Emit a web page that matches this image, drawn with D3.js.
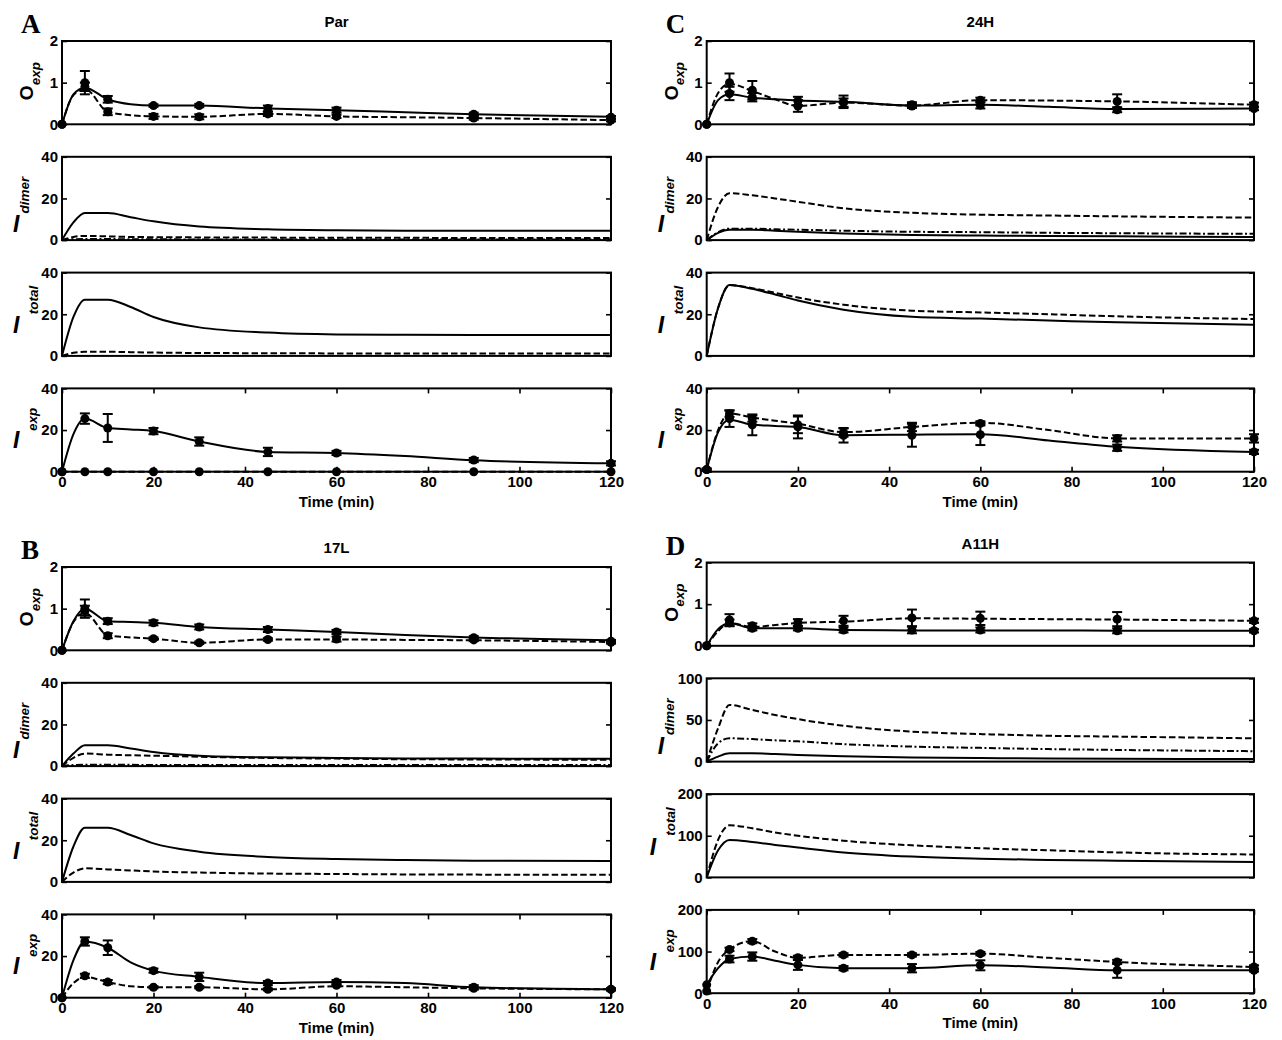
<!DOCTYPE html>
<html><head><meta charset="utf-8">
<script src="https://cdn.jsdelivr.net/npm/d3@7"></script>
<style>body{margin:0;background:#fff} svg{display:block}</style>
</head><body><svg id="c" width="1282" height="1040"></svg>
<script>
// ---------------- DATA ----------------
const timeObs = [0, 5, 10, 20, 30, 45, 60, 90, 120];
const timeFit = [0, 2.5, 5, 10, 15, 20, 30, 45, 60, 75, 90, 120];
const xTicks = [0, 20, 40, 60, 80, 100, 120];
const panelLetters = ["A", "B", "C", "D"];
const panelTitles = ["Par", "17L", "24H", "A11H"];
const rowLabels = [["O", "exp"], ["I", "dimer"], ["I", "total"], ["I", "exp"]];
const yTicksStd = [[0, 1, 2], [0, 20, 40], [0, 20, 40], [0, 20, 40]];
const yTicksD = [[0, 1, 2], [0, 50, 100], [0, 100, 200], [0, 100, 200]];
const xLabel = "Time (min)";

// Panel A: Par
const parOexpFit1 = [0, 0.72, 0.88, 0.6, 0.48, 0.45, 0.45, 0.38, 0.34, 0.29, 0.24, 0.18];
const parOexpFit2 = [0, 0.7, 0.85, 0.3, 0.22, 0.19, 0.18, 0.25, 0.19, 0.17, 0.15, 0.1];
const parOexpObs1 = [0, 1.0, 0.6, 0.45, 0.45, 0.38, 0.34, 0.24, 0.17];
const parOexpErr1 = [0, 0.28, 0.08, 0.03, 0.04, 0.07, 0.06, 0.04, 0.03];
const parOexpObs2 = [0, 0.9, 0.3, 0.19, 0.18, 0.25, 0.19, 0.15, 0.1];
const parOexpErr2 = [0, 0.1, 0.08, 0.06, 0.06, 0.05, 0.04, 0.04, 0.03];
const parIdimerFit1 = [0, 8.5, 13, 13, 11, 9, 6.5, 5.2, 4.7, 4.5, 4.5, 4.5];
const parIdimerFit2 = [0, 1.5, 2, 1.8, 1.5, 1.4, 1.3, 1.2, 1.1, 1.1, 1, 1];
const parIdimerFit3 = [0, 0.4, 0.5, 0.5, 0.4, 0.4, 0.3, 0.3, 0.3, 0.3, 0.3, 0.3];
const parItotalFit1 = [0, 18.7, 27, 27, 23.5, 18.7, 13.7, 11.2, 10.3, 10.1, 10, 10];
const parItotalFit2 = [0, 1.5, 2, 2, 1.8, 1.6, 1.4, 1.3, 1.2, 1.2, 1.1, 1.1];
const parIexpFit1 = [0, 18, 25.5, 21, 20.3, 19.5, 14.5, 9.5, 9, 7.5, 5.5, 4];
const parIexpFit2 = [0, 0, 0, 0, 0, 0, 0, 0, 0, 0, 0, 0];
const parIexpObs1 = [0, 25.5, 21, 19.5, 14.5, 9.5, 9, 5.6, 4];
const parIexpErr1 = [0, 2.5, 6.7, 1.5, 2, 2, 1, 1, 1];
const parIexpObs2 = [0, 0, 0, 0, 0, 0, 0, 0, 0];
const parIexpErr2 = [0, 0, 0, 0, 0, 0, 0, 0, 0];

// Panel B: 17L
const l17OexpFit1 = [0, 0.7, 1.0, 0.7, 0.68, 0.66, 0.56, 0.5, 0.44, 0.37, 0.31, 0.24];
const l17OexpFit2 = [0, 0.68, 0.9, 0.36, 0.31, 0.28, 0.18, 0.26, 0.26, 0.25, 0.24, 0.2];
const l17OexpObs1 = [0, 1.0, 0.7, 0.66, 0.56, 0.5, 0.44, 0.3, 0.22];
const l17OexpErr1 = [0, 0.22, 0.07, 0.06, 0.06, 0.06, 0.05, 0.04, 0.03];
const l17OexpObs2 = [0, 0.95, 0.35, 0.28, 0.18, 0.26, 0.27, 0.25, 0.19];
const l17OexpErr2 = [0, 0.12, 0.06, 0.03, 0.03, 0.03, 0.06, 0.03, 0.03];
const l17IdimerFit1 = [0, 6, 10, 10, 8.5, 6.8, 5, 4.2, 3.9, 3.7, 3.6, 3.5];
const l17IdimerFit2 = [0, 4, 6, 5.5, 5.2, 5, 4.5, 3.9, 3.6, 3.3, 3.2, 3];
const l17IdimerFit3 = [0, 0.5, 0.6, 0.6, 0.6, 0.5, 0.5, 0.5, 0.5, 0.5, 0.5, 0.5];
const l17ItotalFit1 = [0, 17, 26, 26, 22.5, 18.5, 14.5, 12, 11, 10.5, 10.2, 10];
const l17ItotalFit2 = [0, 4.5, 6.5, 6, 5.5, 5, 4.5, 4, 3.8, 3.6, 3.5, 3.4];
const l17IexpFit1 = [0, 18, 27, 24, 17, 13, 10, 7, 7.5, 7, 5, 4];
const l17IexpFit2 = [0, 7, 10, 7.5, 5.5, 5, 5, 4, 5.5, 5, 4.5, 4];
const l17IexpObs1 = [0, 27, 24, 13, 10, 7, 7.5, 5, 4];
const l17IexpErr1 = [0, 2, 3.5, 1, 2, 1, 1, 1, 0.5];
const l17IexpObs2 = [0, 10.5, 7.5, 5, 5, 4, 6, 4.5, 4];
const l17IexpErr2 = [0, 1, 1, 0.5, 0.5, 0.5, 0.5, 0.5, 0.5];

// Panel C: 24H
const h24OexpFit1 = [0, 0.58, 0.72, 0.64, 0.6, 0.57, 0.54, 0.45, 0.47, 0.42, 0.37, 0.38];
const h24OexpFit2 = [0, 0.75, 0.97, 0.8, 0.6, 0.44, 0.52, 0.45, 0.58, 0.57, 0.55, 0.47];
const h24OexpObs1 = [0, 0.74, 0.65, 0.56, 0.54, 0.44, 0.46, 0.35, 0.38];
const h24OexpErr1 = [0, 0.16, 0.1, 0.1, 0.15, 0.05, 0.08, 0.06, 0.04];
const h24OexpObs2 = [0, 1.0, 0.82, 0.44, 0.52, 0.47, 0.58, 0.55, 0.47];
const h24OexpErr2 = [0, 0.22, 0.22, 0.14, 0.1, 0.06, 0.06, 0.17, 0.05];
const h24IdimerFit1 = [0, 3.5, 5, 5, 4.5, 4, 3.2, 2.5, 2.2, 2, 1.8, 1.5];
const h24IdimerFit2 = [0, 16, 22.5, 21.5, 20, 18.4, 15.3, 13.1, 12.2, 11.8, 11.4, 10.8];
const h24IdimerFit3 = [0, 3.8, 5.5, 5.5, 5.2, 5, 4.5, 4, 3.8, 3.5, 3.3, 3];
const h24ItotalFit1 = [0, 23, 34, 32.2, 29.5, 26.6, 22.2, 18.8, 17.9, 17, 16.1, 15];
const h24ItotalFit2 = [0, 23, 34, 32.5, 30.3, 28, 24.6, 21.7, 20.9, 20, 19, 17.7];
const h24IexpFit1 = [1, 19, 25, 22.5, 22, 21.5, 17.5, 17.8, 18, 15, 12, 9.5];
const h24IexpFit2 = [1, 20, 28, 26, 24.5, 23, 19, 21.5, 23.5, 20, 16, 16];
const h24IexpObs1 = [1, 25.5, 22.5, 21.5, 17.5, 17.5, 17.8, 11.5, 9.5];
const h24IexpErr1 = [0.5, 4, 5, 5.5, 3.5, 5.5, 5, 1.5, 1];
const h24IexpObs2 = [1, 27.8, 25.5, 22.5, 18.8, 21.5, 23.2, 16, 16];
const h24IexpErr2 = [0.5, 1.5, 1.5, 4, 2, 2, 1, 1.5, 2];

// Panel D: A11H
const a11OexpFit1 = [0, 0.4, 0.55, 0.42, 0.42, 0.42, 0.38, 0.37, 0.37, 0.37, 0.36, 0.36];
const a11OexpFit2 = [0, 0.35, 0.55, 0.45, 0.5, 0.55, 0.58, 0.66, 0.65, 0.64, 0.63, 0.6];
const a11OexpObs1 = [0, 0.55, 0.42, 0.42, 0.38, 0.38, 0.38, 0.36, 0.36];
const a11OexpErr1 = [0, 0.08, 0.05, 0.05, 0.06, 0.08, 0.06, 0.06, 0.04];
const a11OexpObs2 = [0, 0.62, 0.48, 0.56, 0.6, 0.67, 0.66, 0.64, 0.6];
const a11OexpErr2 = [0, 0.14, 0.06, 0.08, 0.12, 0.2, 0.16, 0.17, 0.05];
const a11IdimerFit1 = [0, 6, 10, 10, 9, 8, 6.5, 5, 4.2, 3.7, 3.3, 3];
const a11IdimerFit2 = [0, 40, 68, 62, 56, 51, 43, 36, 33, 31, 30, 28];
const a11IdimerFit3 = [0, 22, 28, 27, 25.5, 24.3, 21, 18, 16.5, 15, 14, 12.5];
const a11ItotalFit1 = [0, 65, 90, 85, 78, 72, 60, 50, 45, 42, 40, 37];
const a11ItotalFit2 = [0, 90, 125, 118, 108, 100, 88, 77, 70, 65, 60, 55];
const a11IexpFit1 = [20, 60, 82, 88, 78, 68, 60, 60, 67, 62, 55, 55];
const a11IexpFit2 = [5, 75, 105, 125, 100, 85, 92, 92, 95, 85, 75, 63];
const a11IexpObs1 = [20, 82, 88, 68, 60, 60, 67, 55, 55];
const a11IexpErr1 = [0, 8, 10, 12, 5, 10, 12, 18, 3];
const a11IexpObs2 = [5, 105, 125, 85, 92, 92, 95, 75, 63];
const a11IexpErr2 = [0, 4, 5, 5, 4, 4, 4, 5, 4];

// ---------------- BUILD ----------------
const panels = [
  { letter: panelLetters[0], title: panelTitles[0], x0: 62, x1: 611, y0: 41, ticks: yTicksStd,
    rows: [
      { fits: [parOexpFit1, parOexpFit2], obs: [[parOexpObs1, parOexpErr1], [parOexpObs2, parOexpErr2]] },
      { fits: [parIdimerFit1, parIdimerFit2, parIdimerFit3], obs: [] },
      { fits: [parItotalFit1, parItotalFit2], obs: [] },
      { fits: [parIexpFit1, parIexpFit2], obs: [[parIexpObs1, parIexpErr1], [parIexpObs2, parIexpErr2]] }
    ] },
  { letter: panelLetters[1], title: panelTitles[1], x0: 62, x1: 611, y0: 567, ticks: yTicksStd,
    rows: [
      { fits: [l17OexpFit1, l17OexpFit2], obs: [[l17OexpObs1, l17OexpErr1], [l17OexpObs2, l17OexpErr2]] },
      { fits: [l17IdimerFit1, l17IdimerFit2, l17IdimerFit3], obs: [] },
      { fits: [l17ItotalFit1, l17ItotalFit2], obs: [] },
      { fits: [l17IexpFit1, l17IexpFit2], obs: [[l17IexpObs1, l17IexpErr1], [l17IexpObs2, l17IexpErr2]] }
    ] },
  { letter: panelLetters[2], title: panelTitles[2], x0: 706.7, x1: 1254, y0: 41, ticks: yTicksStd,
    rows: [
      { fits: [h24OexpFit1, h24OexpFit2], obs: [[h24OexpObs1, h24OexpErr1], [h24OexpObs2, h24OexpErr2]] },
      { fits: [h24IdimerFit1, h24IdimerFit2, h24IdimerFit3], obs: [] },
      { fits: [h24ItotalFit1, h24ItotalFit2], obs: [] },
      { fits: [h24IexpFit1, h24IexpFit2], obs: [[h24IexpObs1, h24IexpErr1], [h24IexpObs2, h24IexpErr2]] }
    ] },
  { letter: panelLetters[3], title: panelTitles[3], x0: 706.7, x1: 1254, y0: 562.5, ticks: yTicksD,
    rows: [
      { fits: [a11OexpFit1, a11OexpFit2], obs: [[a11OexpObs1, a11OexpErr1], [a11OexpObs2, a11OexpErr2]] },
      { fits: [a11IdimerFit1, a11IdimerFit2, a11IdimerFit3], obs: [] },
      { fits: [a11ItotalFit1, a11ItotalFit2], obs: [] },
      { fits: [a11IexpFit1, a11IexpFit2], obs: [[a11IexpObs1, a11IexpErr1], [a11IexpObs2, a11IexpErr2]] }
    ] }
];

const FONT = "'Liberation Sans', Arial, Helvetica, sans-serif";
const SERIF = "'Liberation Serif', 'Times New Roman', serif";
const rowStep = 115.8, rowH = 83.3;
const dashes = [null, "6.5,3", "7,2.5,2,2.5"];
// label geometry per row (relative to the plot's left edge and row middle):
// [I baseline dy, subscript baseline dx, subscript start dy]
const labelGeom = [null, [34, -33, 15], [19, -24, 0], [18, -25, 1]];

const svg = d3.select("#c");

function styleAxis(ax) {
  ax.select(".domain").remove();
  ax.attr("font-family", FONT).attr("font-size", 15).attr("font-weight", "bold");
  ax.selectAll("line").attr("stroke", "#000").attr("stroke-width", 1.6);
  ax.selectAll("text").attr("fill", "#000");
}

panels.forEach(p => {
  const x = d3.scaleLinear().domain([0, 120]).range([p.x0, p.x1]);
  const cx = (p.x0 + p.x1) / 2;

  svg.append("text").attr("x", p.x0 - 41).attr("y", p.y0 - 8)
    .attr("font-family", SERIF).attr("font-weight", "bold").attr("font-size", 27)
    .text(p.letter);
  svg.append("text").attr("x", cx).attr("y", p.y0 - 14).attr("text-anchor", "middle")
    .attr("font-family", FONT).attr("font-weight", "bold").attr("font-size", 15)
    .text(p.title);

  p.rows.forEach((r, i) => {
    const top = p.y0 + i * rowStep, bot = top + rowH, mid = (top + bot) / 2;
    const ticks = p.ticks[i];
    const y = d3.scaleLinear().domain([0, d3.max(ticks)]).range([bot, top]);
    const g = svg.append("g");
    // labels move left when the middle tick label is wide
    const L = p.x0 - (ticks[1] >= 100 ? 8 : 0);

    // axes with inward ticks
    const axL = g.append("g").attr("transform", `translate(${p.x0},0)`)
      .call(d3.axisLeft(y).tickValues(ticks).tickSizeInner(-5).tickSizeOuter(0).tickPadding(4).tickFormat(d3.format("d")));
    styleAxis(axL);
    const axR = g.append("g").attr("transform", `translate(${p.x1},0)`)
      .call(d3.axisRight(y).tickValues(ticks).tickSizeInner(-5).tickSizeOuter(0).tickFormat(() => ""));
    styleAxis(axR);
    if (i === 3) {
      const axB = g.append("g").attr("transform", `translate(0,${bot})`)
        .call(d3.axisBottom(x).tickValues(xTicks).tickSizeInner(-5).tickSizeOuter(0).tickPadding(5).tickFormat(d3.format("d")));
      styleAxis(axB);
      const axT = g.append("g").attr("transform", `translate(0,${top})`)
        .call(d3.axisTop(x).tickValues(xTicks).tickSizeInner(-5).tickSizeOuter(0).tickFormat(() => ""));
      styleAxis(axT);
      g.append("text").attr("x", cx).attr("y", bot + 35).attr("text-anchor", "middle")
        .attr("font-family", FONT).attr("font-weight", "bold").attr("font-size", 15)
        .text(xLabel);
    }

    // box
    g.append("rect").attr("x", p.x0).attr("y", top).attr("width", p.x1 - p.x0).attr("height", rowH)
      .attr("fill", "none").attr("stroke", "#000").attr("stroke-width", 2);

    // y label
    const lab = rowLabels[i];
    if (i === 0) {
      const t = g.append("text").attr("transform", `translate(${L - 29},${mid + 17.5}) rotate(-90)`)
        .attr("font-family", FONT);
      t.append("tspan").attr("font-size", 19).attr("font-weight", "bold").text(lab[0]);
      t.append("tspan").attr("font-size", 13.5).attr("font-style", "italic").attr("font-weight", "bold")
        .attr("dy", 6.5).text(lab[1]);
    } else {
      const lg = labelGeom[i];
      g.append("text").attr("x", L - 49).attr("y", mid + lg[0])
        .attr("font-family", FONT).attr("font-style", "italic").attr("font-weight", "bold").attr("font-size", 23)
        .text(lab[0]);
      g.append("text").attr("transform", `translate(${L + lg[1]},${mid + lg[2]}) rotate(-90)`)
        .attr("font-family", FONT).attr("font-style", "italic").attr("font-weight", "bold").attr("font-size", 13.5)
        .text(lab[1]);
    }

    // model curves
    const line = d3.line().x((d, j) => x(timeFit[j])).y(d => y(d)).curve(d3.curveMonotoneX);
    r.fits.forEach((f, k) => {
      g.append("path").attr("d", line(f)).attr("fill", "none").attr("stroke", "#000")
        .attr("stroke-width", 2).attr("stroke-dasharray", dashes[k]);
    });

    // observations with error bars
    r.obs.forEach(([vals, errs]) => {
      const og = g.append("g");
      vals.forEach((v, j) => {
        const e = errs[j];
        const px = x(timeObs[j]);
        if (e > 0) {
          og.append("line").attr("x1", px).attr("x2", px).attr("y1", y(v - e)).attr("y2", y(v + e))
            .attr("stroke", "#000").attr("stroke-width", 2);
          [v - e, v + e].forEach(ev => og.append("line").attr("x1", px - 5).attr("x2", px + 5)
            .attr("y1", y(ev)).attr("y2", y(ev)).attr("stroke", "#000").attr("stroke-width", 2));
        }
        og.append("circle").attr("cx", px).attr("cy", y(v)).attr("r", 4.5).attr("fill", "#000");
      });
    });
  });
});
</script></body></html>
